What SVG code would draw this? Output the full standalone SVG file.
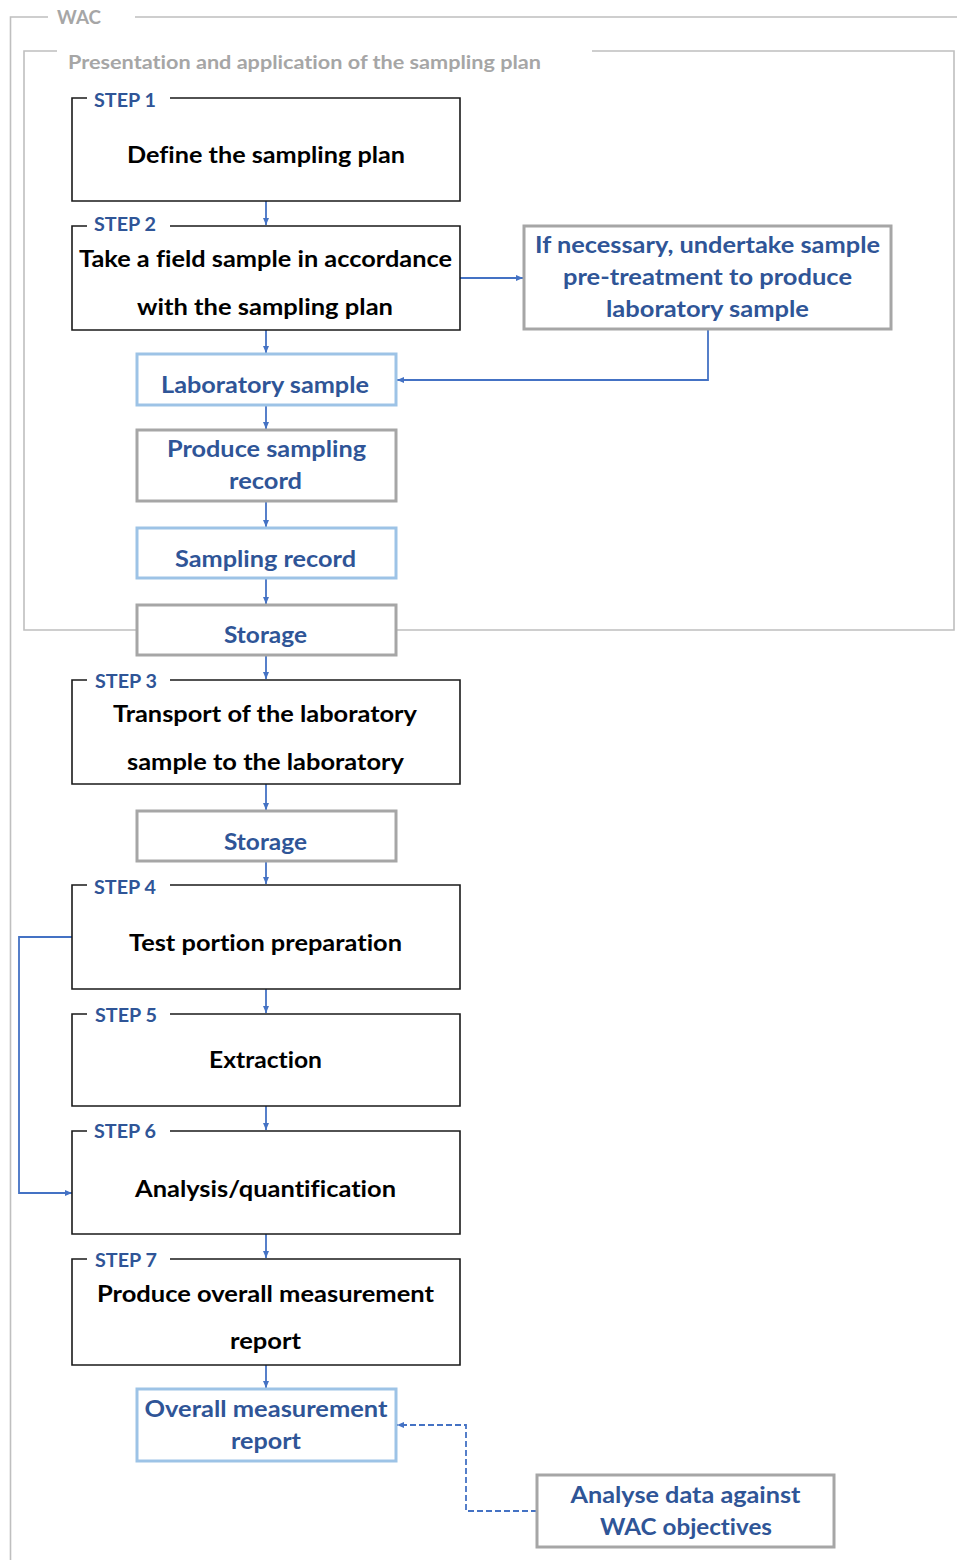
<svg xmlns="http://www.w3.org/2000/svg" width="957" height="1560" viewBox="0 0 957 1560">
<defs>
<marker id="ah" markerUnits="userSpaceOnUse" markerWidth="8" markerHeight="8" refX="7" refY="4" orient="auto">
<path d="M0,1 L7,4 L0,7 Z" fill="#4472c4"/>
</marker>
<style>
text{font-family:Lato,"Open Sans","Liberation Sans",sans-serif;font-weight:bold;font-variant-ligatures:none;}
.frame{fill:none;stroke:#bfbfbf;stroke-width:1.6;}
.ftxt{fill:#a6a6a6;font-size:19px;}
.step{fill:none;stroke:#1a1a1a;stroke-width:1.6;}
.slbl{fill:#2f5597;font-size:19px;}
.main{fill:#000;font-size:22px;text-anchor:middle;}
.gbox{fill:#fff;stroke:#a6a6a6;stroke-width:3;}
.lbox{fill:#fff;stroke:#9dc3e6;stroke-width:3;}
.btxt{fill:#2f5597;font-size:22px;text-anchor:middle;}
.con{fill:none;stroke:#4472c4;stroke-width:1.8;marker-end:url(#ah);}
.dash{stroke-dasharray:6,3;}
</style>
</defs>
<rect width="957" height="1560" fill="#fff"/>

<g id="frame-wac">
<path class="frame" d="M48,17 H10.5 V1560 M135,17 H957"/>
<text class="ftxt" x="57" y="24" textLength="44" lengthAdjust="spacingAndGlyphs">WAC</text>
</g>
<g id="frame-plan">
<path class="frame" d="M57,51 H24 V630 H954 V51 H592"/>
<text class="ftxt" x="68" y="69" textLength="473" lengthAdjust="spacingAndGlyphs">Presentation and application of the sampling plan</text>
</g>

<g id="connectors">
<path class="con" d="M266,201 V225"/>
<path class="con" d="M460,278 H523"/>
<path class="con" d="M708,329 V380 H397"/>
<path class="con" d="M266,330 V353"/>
<path class="con" d="M266,405 V429"/>
<path class="con" d="M266,501 V527"/>
<path class="con" d="M266,578 V604"/>
<path class="con" d="M266,655 V679"/>
<path class="con" d="M266,784 V810"/>
<path class="con" d="M266,861 V884"/>
<path class="con" d="M266,989 V1013"/>
<path class="con" d="M266,1106 V1130"/>
<path class="con" d="M72,937 H19 V1193 H72"/>
<path class="con" d="M266,1234 V1258"/>
<path class="con" d="M266,1365 V1388"/>
<path class="con dash" d="M537,1511 H466 V1425 H397"/>
</g>

<g id="step1">
<path class="step" d="M87,98 H72 V201 H460 V98 H170"/>
<text class="slbl" x="94" y="107" textLength="62" lengthAdjust="spacingAndGlyphs">STEP 1</text>
<text class="main" x="266" y="163" textLength="278" lengthAdjust="spacingAndGlyphs">Define the sampling plan</text>
</g>

<g id="step2">
<path class="step" d="M87,226 H72 V330 H460 V226 H170"/>
<text class="slbl" x="94" y="231" textLength="62" lengthAdjust="spacingAndGlyphs">STEP 2</text>
<text class="main" x="265.5" y="267" textLength="373" lengthAdjust="spacingAndGlyphs">Take a field sample in accordance</text>
<text class="main" x="265" y="315" textLength="256" lengthAdjust="spacingAndGlyphs">with the sampling plan</text>
</g>

<g id="pretreatment">
<rect class="gbox" x="524" y="226" width="367" height="103"/>
<text class="btxt" x="707.5" y="253" textLength="345" lengthAdjust="spacingAndGlyphs">If necessary, undertake sample</text>
<text class="btxt" x="707.5" y="285" textLength="289" lengthAdjust="spacingAndGlyphs">pre-treatment to produce</text>
<text class="btxt" x="707.5" y="317" textLength="203" lengthAdjust="spacingAndGlyphs">laboratory sample</text>
</g>

<g id="lab-sample">
<rect class="lbox" x="137" y="354" width="259" height="51"/>
<text class="btxt" x="265" y="393" textLength="208" lengthAdjust="spacingAndGlyphs">Laboratory sample</text>
</g>

<g id="produce-record">
<rect class="gbox" x="137" y="430" width="259" height="71"/>
<text class="btxt" x="266.5" y="457" textLength="199" lengthAdjust="spacingAndGlyphs">Produce sampling</text>
<text class="btxt" x="265.5" y="489" textLength="73" lengthAdjust="spacingAndGlyphs">record</text>
</g>

<g id="sampling-record">
<rect class="lbox" x="137" y="528" width="259" height="50"/>
<text class="btxt" x="265.5" y="567" textLength="181" lengthAdjust="spacingAndGlyphs">Sampling record</text>
</g>

<g id="storage1">
<rect class="gbox" x="137" y="605" width="259" height="50"/>
<text class="btxt" x="265.5" y="643" textLength="83" lengthAdjust="spacingAndGlyphs">Storage</text>
</g>

<g id="step3">
<path class="step" d="M87,680 H72 V784 H460 V680 H170"/>
<text class="slbl" x="95" y="688" textLength="62" lengthAdjust="spacingAndGlyphs">STEP 3</text>
<text class="main" x="265" y="722" textLength="304" lengthAdjust="spacingAndGlyphs">Transport of the laboratory</text>
<text class="main" x="265.5" y="770" textLength="277" lengthAdjust="spacingAndGlyphs">sample to the laboratory</text>
</g>

<g id="storage2">
<rect class="gbox" x="137" y="811" width="259" height="50"/>
<text class="btxt" x="265.5" y="850" textLength="83" lengthAdjust="spacingAndGlyphs">Storage</text>
</g>

<g id="step4">
<path class="step" d="M87,885 H72 V989 H460 V885 H170"/>
<text class="slbl" x="94" y="894" textLength="62" lengthAdjust="spacingAndGlyphs">STEP 4</text>
<text class="main" x="265.5" y="951" textLength="273" lengthAdjust="spacingAndGlyphs">Test portion preparation</text>
</g>

<g id="step5">
<path class="step" d="M87,1014 H72 V1106 H460 V1014 H170"/>
<text class="slbl" x="95" y="1022" textLength="62" lengthAdjust="spacingAndGlyphs">STEP 5</text>
<text class="main" x="265.5" y="1068" textLength="113" lengthAdjust="spacingAndGlyphs">Extraction</text>
</g>

<g id="step6">
<path class="step" d="M87,1131 H72 V1234 H460 V1131 H170"/>
<text class="slbl" x="94" y="1138" textLength="62" lengthAdjust="spacingAndGlyphs">STEP 6</text>
<text class="main" x="265.5" y="1197" textLength="261" lengthAdjust="spacingAndGlyphs">Analysis/quantification</text>
</g>

<g id="step7">
<path class="step" d="M87,1259 H72 V1365 H460 V1259 H170"/>
<text class="slbl" x="95" y="1267" textLength="62" lengthAdjust="spacingAndGlyphs">STEP 7</text>
<text class="main" x="265.5" y="1302" textLength="337" lengthAdjust="spacingAndGlyphs">Produce overall measurement</text>
<text class="main" x="265.5" y="1349" textLength="71" lengthAdjust="spacingAndGlyphs">report</text>
</g>

<g id="overall-report">
<rect class="lbox" x="137" y="1389" width="259" height="72"/>
<text class="btxt" x="266" y="1417" textLength="243" lengthAdjust="spacingAndGlyphs">Overall measurement</text>
<text class="btxt" x="266" y="1449" textLength="70" lengthAdjust="spacingAndGlyphs">report</text>
</g>

<g id="analyse">
<rect class="gbox" x="537" y="1475" width="297" height="72"/>
<text class="btxt" x="685.5" y="1503" textLength="230" lengthAdjust="spacingAndGlyphs">Analyse data against</text>
<text class="btxt" x="686" y="1535" textLength="172" lengthAdjust="spacingAndGlyphs">WAC objectives</text>
</g>
</svg>
